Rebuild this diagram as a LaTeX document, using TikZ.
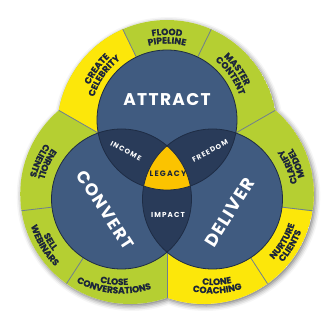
\documentclass[tikz,border=0pt]{standalone}
\usepackage{fontspec}
\newfontfamily\popL[LetterSpace=3,FakeBold=0.6]{Poppins}
\newfontfamily\popB[LetterSpace=8]{Poppins}
\newfontfamily\popS[LetterSpace=15]{Poppins}
\usetikzlibrary{calc,decorations.text,shadows.blur}
\definecolor{ringgreen}{HTML}{B5CF32}
\definecolor{ringyellow}{HTML}{FCE70A}
\definecolor{mainblue}{HTML}{405B80}
\definecolor{lensdark}{HTML}{293B59}
\definecolor{gold}{HTML}{FBC300}
\definecolor{navytxt}{HTML}{1C263A}
\definecolor{circline}{HTML}{1E2C44}
\definecolor{divline}{HTML}{6F7F8F}
\newcommand\ringtxt{\popL\bfseries\fontsize{9}{9}\selectfont\color{navytxt}}
\newcommand\cwlabel[4]{\path[decorate,decoration={text along path,text align=center,text={|\ringtxt|#4}}] ($(#1)+(#2+35:#3)$) arc[start angle=#2+35,end angle=#2-35,radius=#3];}
\newcommand\ccwlabel[4]{\path[decorate,decoration={text along path,text align=center,text={|\ringtxt|#4}}] ($(#1)+(#2-35:#3)$) arc[start angle=#2-35,end angle=#2+35,radius=#3];}
\begin{document}
\begin{tikzpicture}[x=1pt,y=1pt,
  divider/.style={draw=divline,line width=0.8pt},
  circ/.style={draw=circline,line width=0.8pt},
  bigtxt/.style={text=white,font=\popB\bfseries\fontsize{17}{17}\selectfont,inner sep=0pt},
  smalltxt/.style={text=white,font=\popS\bfseries\fontsize{7}{7}\selectfont,inner sep=0pt}]
\useasboundingbox (0,0) rectangle (335,327);
\coordinate (A) at (167,207);
\coordinate (C) at (121.5,128);
\coordinate (D) at (212.5,128);
\coordinate (Ao) at (167,197);
\coordinate (Co) at (130.2,133);
\coordinate (Do) at (203.8,133);
\coordinate (G) at (167,154.3);
\coordinate (L) at (58.77,216.65);
\coordinate (R) at (275.23,216.65);
\coordinate (B) at (167,29.34);
\coordinate (IL) at (98.22,194.0);
\coordinate (IR) at (235.78,194.0);
\coordinate (IB) at (167,74.8);
% shadow
\path[fill=white,blur shadow={shadow xshift=1.5pt,shadow yshift=-2pt,shadow blur radius=5pt,shadow opacity=55}]
  (R) arc[start angle=10.29,end angle=169.71,radius=110]
  arc[start angle=130.5,end angle=289.55,radius=110]
  arc[start angle=250.45,end angle=409.5,radius=110] -- cycle;
% sector A
\begin{scope}
  \clip (G) -- (-49.46,279) -- (-49.46,400) -- (383.46,400) -- (383.46,279) -- cycle;
  \clip (Ao) circle[radius=110];
  \fill[ringgreen] (Ao) circle[radius=110];
  \fill[ringyellow] (A) -- +(116:300) -- +(180:300) -- +(240:300) -- cycle;
\end{scope}
% sector C
\begin{scope}
  \clip (G) -- (-49.46,279) -- (-49.46,-95.6) -- (167,-95.6) -- cycle;
  \fill[ringgreen] (Co) circle[radius=110];
\end{scope}
% sector D
\begin{scope}
  \clip (G) -- (383.46,279) -- (383.46,-95.6) -- (167,-95.6) -- cycle;
  \clip (Do) circle[radius=110];
  \fill[ringyellow] (Do) circle[radius=110];
  \fill[ringgreen] (D) -- +(-7:300) -- +(60:300) -- +(120:300) -- cycle;
\end{scope}
% dividers
\begin{scope}
  \clip (R) arc[start angle=10.29,end angle=169.71,radius=110]
  arc[start angle=130.5,end angle=289.55,radius=110]
  arc[start angle=250.45,end angle=409.5,radius=110] -- cycle;
  \draw[divider] ($(A)+(64:70)$) -- ($(A)+(64:130)$);
  \draw[divider] ($(A)+(116:70)$) -- ($(A)+(116:130)$);
  \draw[divider] ($(C)+(186.7:70)$) -- ($(C)+(186.7:130)$);
  \draw[divider] ($(C)+(237:70)$) -- ($(C)+(237:130)$);
  \draw[divider] ($(D)+(-6.7:70)$) -- ($(D)+(-6.7:130)$);
  \draw[divider] ($(D)+(-57:70)$) -- ($(D)+(-57:130)$);
  \draw[divider] (IL) -- (L);
  \draw[divider] (IR) -- (R);
  \draw[divider] (IB) -- (B);
\end{scope}
% inner circles
\fill[mainblue] (A) circle[radius=70];
\fill[mainblue] (C) circle[radius=70];
\fill[mainblue] (D) circle[radius=70];
\begin{scope}
  \clip (A) circle[radius=70];
  \fill[lensdark] (C) circle[radius=70];
  \fill[lensdark] (D) circle[radius=70];
\end{scope}
\begin{scope}
  \clip (C) circle[radius=70];
  \fill[lensdark] (D) circle[radius=70];
\end{scope}
\begin{scope}
  \clip (A) circle[radius=70];
  \clip (C) circle[radius=70];
  \fill[gold] (D) circle[radius=70];
\end{scope}
\draw[circ] (A) circle[radius=70];
\draw[circ] (C) circle[radius=70];
\draw[circ] (D) circle[radius=70];
% big labels
\node[bigtxt] (attract) at (167,227) {ATTRACT};
\node[bigtxt,rotate=-57] (convert) at (105.5,117) {CONVERT};
\node[bigtxt,rotate=58,font=\popB\bfseries\fontsize{17.5}{18}\selectfont] (deliver) at (229.5,114.5) {DELIVER};
\node[smalltxt,rotate=-28] (income) at (126,176) {INCOME};
\node[smalltxt,rotate=28] (freedom) at (210,176) {FREEDOM};
\node[smalltxt,text=navytxt,font=\popS\bfseries\fontsize{7.8}{8}\selectfont] (legacy) at (168,153) {LEGACY};
\node[smalltxt,font=\popS\bfseries\fontsize{7.2}{8}\selectfont] (impact) at (168,112) {IMPACT};
% ring labels
\cwlabel{A}{90}{85}{FLOOD}
\cwlabel{A}{90}{76.5}{PIPELINE}
\cwlabel{A}{144}{85}{CREATE}
\cwlabel{A}{145}{76.5}{CELEBRITY}
\cwlabel{A}{36}{85}{MASTER}
\cwlabel{A}{35}{76.5}{CONTENT}
\ccwlabel{C}{155}{86}{ENROLL}
\ccwlabel{C}{155}{94.5}{CLIENTS}
\ccwlabel{C}{211}{86}{SELL}
\ccwlabel{C}{211}{94.5}{WEBINARS}
\ccwlabel{C}{265}{86}{CLOSE}
\ccwlabel{C}{265}{94.5}{CONVERSATIONS}
\ccwlabel{D}{23}{86}{CLARIFY}
\ccwlabel{D}{23}{94.5}{MODEL}
\ccwlabel{D}{-31}{86}{NURTURE}
\ccwlabel{D}{-31}{94.5}{CLIENTS}
\ccwlabel{D}{-87}{86}{CLONE}
\ccwlabel{D}{-87}{94.5}{COACHING}
\end{tikzpicture}
\end{document}
